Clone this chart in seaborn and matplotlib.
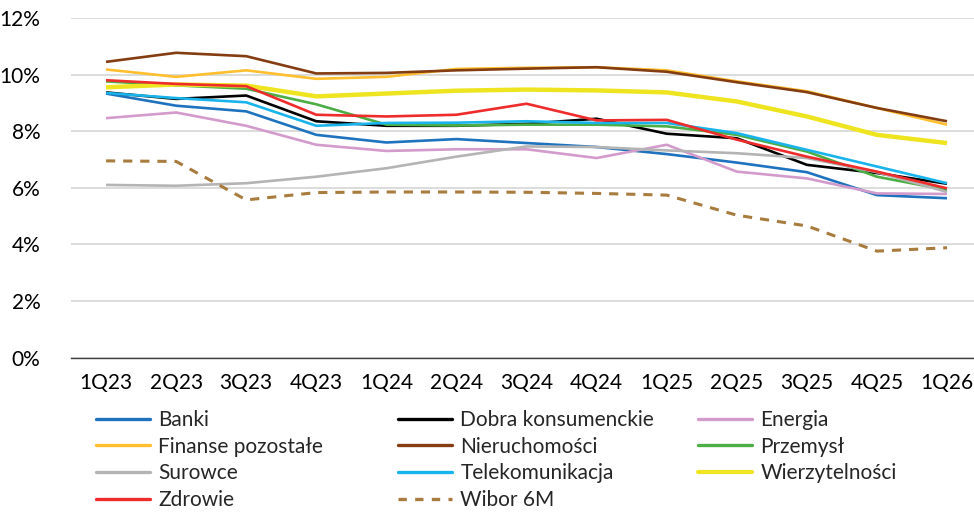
import matplotlib
matplotlib.use("Agg")
import matplotlib.pyplot as plt
import matplotlib.lines as mlines
import seaborn as sns
import pandas as pd
from matplotlib.ticker import FuncFormatter

quarters = ["1Q23", "2Q23", "3Q23", "4Q23", "1Q24", "2Q24", "3Q24", "4Q24",
            "1Q25", "2Q25", "3Q25", "4Q25", "1Q26"]

banki = [9.33, 8.90, 8.70, 7.87, 7.60, 7.72, 7.58, 7.44, 7.19, 6.89, 6.55, 5.74, 5.63]
dobra = [9.37, 9.14, 9.26, 8.35, 8.19, 8.19, 8.26, 8.44, 7.91, 7.75, 6.81, 6.52, 6.14]
energia = [8.46, 8.66, 8.19, 7.52, 7.30, 7.36, 7.36, 7.05, 7.52, 6.57, 6.33, 5.80, 5.78]
finanse = [10.18, 9.92, 10.15, 9.85, 9.92, 10.20, 10.24, 10.26, 10.15, 9.76, 9.41, 8.82, 8.23]
nieruch = [10.45, 10.77, 10.65, 10.04, 10.06, 10.15, 10.21, 10.26, 10.10, 9.73, 9.38, 8.82, 8.35]
przemysl = [9.76, 9.62, 9.50, 8.95, 8.23, 8.20, 8.23, 8.23, 8.17, 7.87, 7.28, 6.39, 5.92]
surowce = [6.10, 6.07, 6.16, 6.39, 6.69, 7.10, 7.46, 7.44, 7.32, 7.22, 7.05, 6.55, 5.85]
telekom = [9.35, 9.17, 9.02, 8.19, 8.29, 8.30, 8.35, 8.29, 8.29, 7.93, 7.34, 6.75, 6.16]
wierzyt = [9.55, 9.65, 9.61, 9.23, 9.33, 9.43, 9.47, 9.44, 9.37, 9.05, 8.52, 7.87, 7.58]
zdrowie = [9.80, 9.67, 9.59, 8.58, 8.52, 8.58, 8.97, 8.38, 8.40, 7.70, 7.10, 6.57, 5.98]
wibor = [6.95, 6.93, 5.57, 5.83, 5.85, 5.85, 5.84, 5.80, 5.74, 5.03, 4.65, 3.76, 3.88]

series_names = ["Banki", "Dobra konsumenckie", "Energia", "Finanse pozostałe",
                "Nieruchomości", "Przemysł", "Surowce", "Telekomunikacja",
                "Wierzytelności", "Zdrowie", "Wibor 6M"]
series_values = [banki, dobra, energia, finanse, nieruch, przemysl, surowce,
                 telekom, wierzyt, zdrowie, wibor]

colors = {
    "Banki": "#1F72BE",
    "Dobra konsumenckie": "#000000",
    "Energia": "#D39BCB",
    "Finanse pozostałe": "#FFBF2E",
    "Nieruchomości": "#843C12",
    "Przemysł": "#4CAE44",
    "Surowce": "#B4B4B4",
    "Telekomunikacja": "#19B4EC",
    "Wierzytelności": "#EEE520",
    "Zdrowie": "#EE2C2C",
    "Wibor 6M": "#A87C3E",
}
widths = {n: 1.9 for n in series_names}
widths["Wierzytelności"] = 3.2

rows = []
for name, vals in zip(series_names, series_values):
    for i, v in enumerate(vals):
        rows.append({"series": name, "x": i, "value": v})
df = pd.DataFrame(rows)

sns.set_style("white")
plt.rcParams["font.family"] = ["Lato", "DejaVu Sans"]
FS = 15

fig = plt.figure(figsize=(9.74, 5.14), dpi=100)
ax = fig.add_axes([71 / 974, 1 - 357.5 / 514, 1 - 71 / 974, (357.5 - 18) / 514])

for name in series_names:
    sub = df[df["series"] == name]
    sns.lineplot(data=sub, x="x", y="value", ax=ax, color=colors[name],
                 linewidth=widths[name], legend=False, sort=True)
    line = ax.lines[-1]
    if name == "Wibor 6M":
        line.set_dashes([3.0, 2.6])
        line.set_linewidth(2.2)
    line.set_solid_capstyle("butt")
    line.set_label(name)

ax.set_xlim(-0.5, 12.385)
ax.set_ylim(0, 12)
ax.set_yticks([0, 2, 4, 6, 8, 10, 12])
ax.yaxis.set_major_formatter(FuncFormatter(lambda v, p: f"{int(v)}%"))
ax.set_xticks(range(len(quarters)))
ax.set_xticklabels(quarters)
ax.grid(axis="y", color="#D9D9D9", linewidth=1.3)
ax.set_axisbelow(True)
for s in ["top", "right", "left"]:
    ax.spines[s].set_visible(False)
ax.spines["bottom"].set_color("#404040")
ax.spines["bottom"].set_linewidth(1.0)
ax.tick_params(axis="both", length=0, labelsize=FS, colors="black")
ax.tick_params(axis="x", pad=11)
ax.tick_params(axis="y", pad=22)
ax.set_xlabel("")
ax.set_ylabel("")

cols = [["Banki", "Finanse pozostałe", "Surowce", "Zdrowie"],
        ["Dobra konsumenckie", "Nieruchomości", "Telekomunikacja", "Wibor 6M"],
        ["Energia", "Przemysł", "Wierzytelności"]]
xs = [96, 398, 698]
for colnames, x0 in zip(cols, xs):
    hs = []
    for n in colnames:
        h = mlines.Line2D([], [], color=colors[n],
                          linewidth=2.4 if n != "Wierzytelności" else 3.0)
        if n == "Wibor 6M":
            h.set_dashes([2.5, 2.5])
        hs.append(h)
    fig.legend(hs, colnames, loc="upper left", bbox_to_anchor=(x0 / 974, 1 - 410 / 514),
               frameon=False, fontsize=FS, handlelength=2.6, handletextpad=0.4,
               labelspacing=0.32, borderpad=0, borderaxespad=0)

fig.savefig("out.png", dpi=100)
